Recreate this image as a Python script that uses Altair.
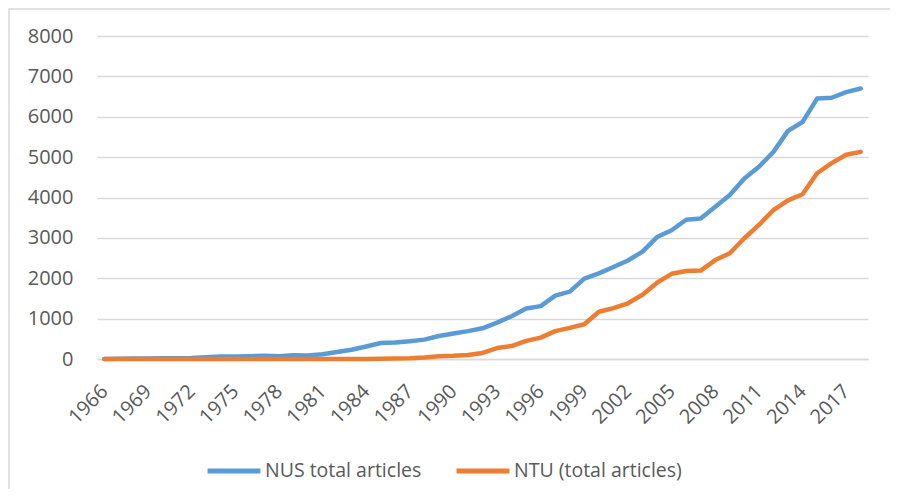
import altair as alt
import pandas as pd

years = list(range(1966, 2019))
nus = [0, 5, 10, 15, 20, 20, 25, 45, 60, 65, 70, 80, 70, 90, 85, 120, 175, 230, 310, 395,
       410, 440, 480, 570, 630, 690, 760, 900, 1060, 1250, 1310, 1570, 1670, 1990, 2120,
       2280, 2440, 2660, 3020, 3190, 3450, 3480, 3770, 4060, 4470, 4760, 5130, 5650, 5870,
       6450, 6470, 6610, 6700]
ntu = [0, 0, 0, 0, 0, 0, 0, 0, 0, 0, 0, 0, 0, 0, 0, 0, 0, 0, 2, 5,
       10, 20, 40, 70, 80, 100, 150, 270, 320, 450, 530, 690, 770, 860, 1170,
       1260, 1380, 1590, 1890, 2110, 2180, 2190, 2450, 2620, 2990, 3320, 3690, 3930, 4080,
       4600, 4850, 5060, 5130]
series = ["NUS total articles", "NTU (total articles)"]
colors = ["#5B9BD5", "#ED7D31"]
tick_years = [str(y) for y in range(1966, 2018, 3)]

rows = []
for i, y in enumerate(years):
    rows.append({"year": str(y), "value": nus[i], "series": series[0], "order": 0})
    rows.append({"year": str(y), "value": ntu[i], "series": series[1], "order": 1})
df = pd.DataFrame(rows)

FONT = "Open Sans"
GRAY = "#595959"

lines = alt.Chart(df).mark_line(strokeWidth=4.5, strokeCap="round", strokeJoin="round").encode(
    x=alt.X("year:O", scale=alt.Scale(type="point", padding=0.5),
            axis=alt.Axis(title=None, values=tick_years, labelAngle=-45, labelAlign="right",
                          labelBaseline="middle", labelFontSize=20, labelColor=GRAY,
                          labelFont=FONT, ticks=False, domainColor="#d9d9d9",
                          domainWidth=1.5, labelPadding=29, grid=False)),
    y=alt.Y("value:Q", scale=alt.Scale(domain=[0, 8000], nice=False),
            axis=alt.Axis(title=None, values=list(range(0, 8001, 1000)), format="d",
                          labelFontSize=20, labelColor=GRAY, labelFont=FONT, ticks=False,
                          domain=False, gridColor="#d9d9d9", gridWidth=1.5, labelPadding=24)),
    color=alt.Color("series:N", scale=alt.Scale(domain=series, range=colors),
                    legend=alt.Legend(title=None, orient="none", direction="horizontal",
                                      legendX=108, legendY=406, symbolType="stroke",
                                      symbolSize=2800, symbolStrokeWidth=5,
                                      labelFontSize=19.5, labelFont=FONT, labelColor=GRAY,
                                      labelLimit=0, columnPadding=24, labelOffset=2,
                                      symbolOffset=0)),
    order=alt.Order("order:Q"),
)

frame = alt.Chart(pd.DataFrame({"a": [0]})).mark_rect(
    fill=None, stroke="#d9d9d9", strokeWidth=1.5, clip=False
).encode(
    x=alt.value(-88), x2=alt.value(798), y=alt.value(-27), y2=alt.value(462)
)

chart = alt.layer(frame, lines).properties(
    width=771, height=323,
    padding={"left": 89, "top": 28, "right": 22, "bottom": 130},
    autosize=alt.AutoSizeParams(type="none"),
).configure_view(stroke=None)

chart.save("out.html", embed_options={"renderer": "svg", "actions": False})
